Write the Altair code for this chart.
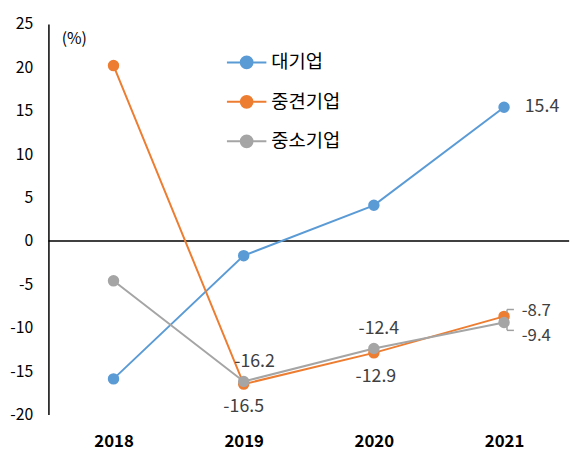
import altair as alt
import pandas as pd

years = ["2018", "2019", "2020", "2021"]
series = ["대기업", "중견기업", "중소기업"]
large = [-15.9, -1.7, 4.1, 15.4]
middle = [20.2, -16.5, -12.9, -8.7]
small = [-4.6, -16.2, -12.4, -9.4]
colors = ["#5B9BD5", "#ED7D31", "#A5A5A5"]

rows = []
for name, vals in zip(series, [large, middle, small]):
    for y, v in zip(years, vals):
        rows.append({"year": y, "series": name, "value": v})
df = pd.DataFrame(rows)

FONT = "Noto Sans CJK KR"
sym = "M-1,0H1M-0.3,0A0.3,0.3,0,1,1,0.3,0A0.3,0.3,0,1,1,-0.3,0Z"

x = alt.X("year:N", scale=alt.Scale(type="point", padding=0.5),
          axis=alt.Axis(title=None, labelAngle=0, ticks=False, domain=False,
                        labelPadding=19, labelFontSize=17, labelFontWeight="bold",
                        labelColor="#000000", labelFont=FONT))
y = alt.Y("value:Q", scale=alt.Scale(domain=[-20, 25], nice=False),
          axis=alt.Axis(values=list(range(-20, 30, 5)), grid=False, ticks=False,
                        labelExpr="toString(datum.value)",
                        domainColor="#000000", domainWidth=1.5, labelPadding=16,
                        labelFontSize=16, labelColor="#000000", labelFont=FONT,
                        title="(%)", titleAngle=0, titleX=13, titleY=23,
                        titleAlign="left", titleFontSize=16, titleFontWeight="normal",
                        titleFont=FONT, titleColor="#000000"))
cscale = alt.Scale(domain=series, range=colors)
color = alt.Color("series:N", scale=cscale,
                  legend=alt.Legend(title=None, orient="none", legendX=180, legendY=18,
                                    symbolType=sym, symbolSize=1600, symbolStrokeWidth=2,
                                    labelFontSize=19, labelFont=FONT,
                                    labelColor="#000000", labelOffset=4))

base = alt.Chart(df)
lines = base.mark_line(strokeWidth=2).encode(x=x, y=y, color=color)
points = base.mark_circle(size=135, opacity=1).encode(
    x=x, y=y, color=alt.Color("series:N", scale=cscale))

zero = alt.Chart(pd.DataFrame({"z": [0]})).mark_rule(color="#000000", strokeWidth=1.5).encode(y="z:Q")

def lab(s, yr, dx, dy, align="center", size=18):
    d = df[(df.series == s) & (df.year == yr)]
    return alt.Chart(d).transform_calculate(t="toString(datum.value)").mark_text(
        dx=dx, dy=dy, align=align, baseline="middle",
        fontSize=size, font=FONT, color="#404040").encode(
        x="year:N", y="value:Q", text="t:N")

labels = [
    lab("대기업", "2021", 21, 0, "left"),
    lab("중소기업", "2019", 11, -20),
    lab("중견기업", "2019", 0, 23),
    lab("중소기업", "2020", 5, -20),
    lab("중견기업", "2020", 2, 25),
    lab("중견기업", "2021", 18, -5, "left", 17),
    lab("중소기업", "2021", 18, 14, "left", 17),
]

def leader(s, yr, dy):
    d = df[(df.series == s) & (df.year == yr)]
    h = alt.Chart(d).mark_rule(color="#A0A0A0", strokeWidth=1.5, xOffset=3, x2Offset=10,
                               yOffset=dy, y2Offset=dy).encode(
        x="year:N", x2="year:N", y="value:Q", y2="value:Q")
    v = alt.Chart(d).mark_rule(color="#A0A0A0", strokeWidth=1.5, xOffset=3, x2Offset=3,
                               yOffset=dy, y2Offset=dy // 2).encode(
        x="year:N", x2="year:N", y="value:Q", y2="value:Q")
    return [h, v]

lead = leader("중견기업", "2021", -7) + leader("중소기업", "2021", 8)

chart = alt.layer(zero, lines, points, *labels, *lead).properties(
    width=528, height=396,
    padding={"left": 41, "top": 13, "right": 10, "bottom": 43},
    autosize=alt.AutoSizeParams(type="none"),
).configure_view(stroke=None).configure_legend(rowPadding=9)

chart.save("out.html", embed_options={"renderer": "svg", "actions": False})
